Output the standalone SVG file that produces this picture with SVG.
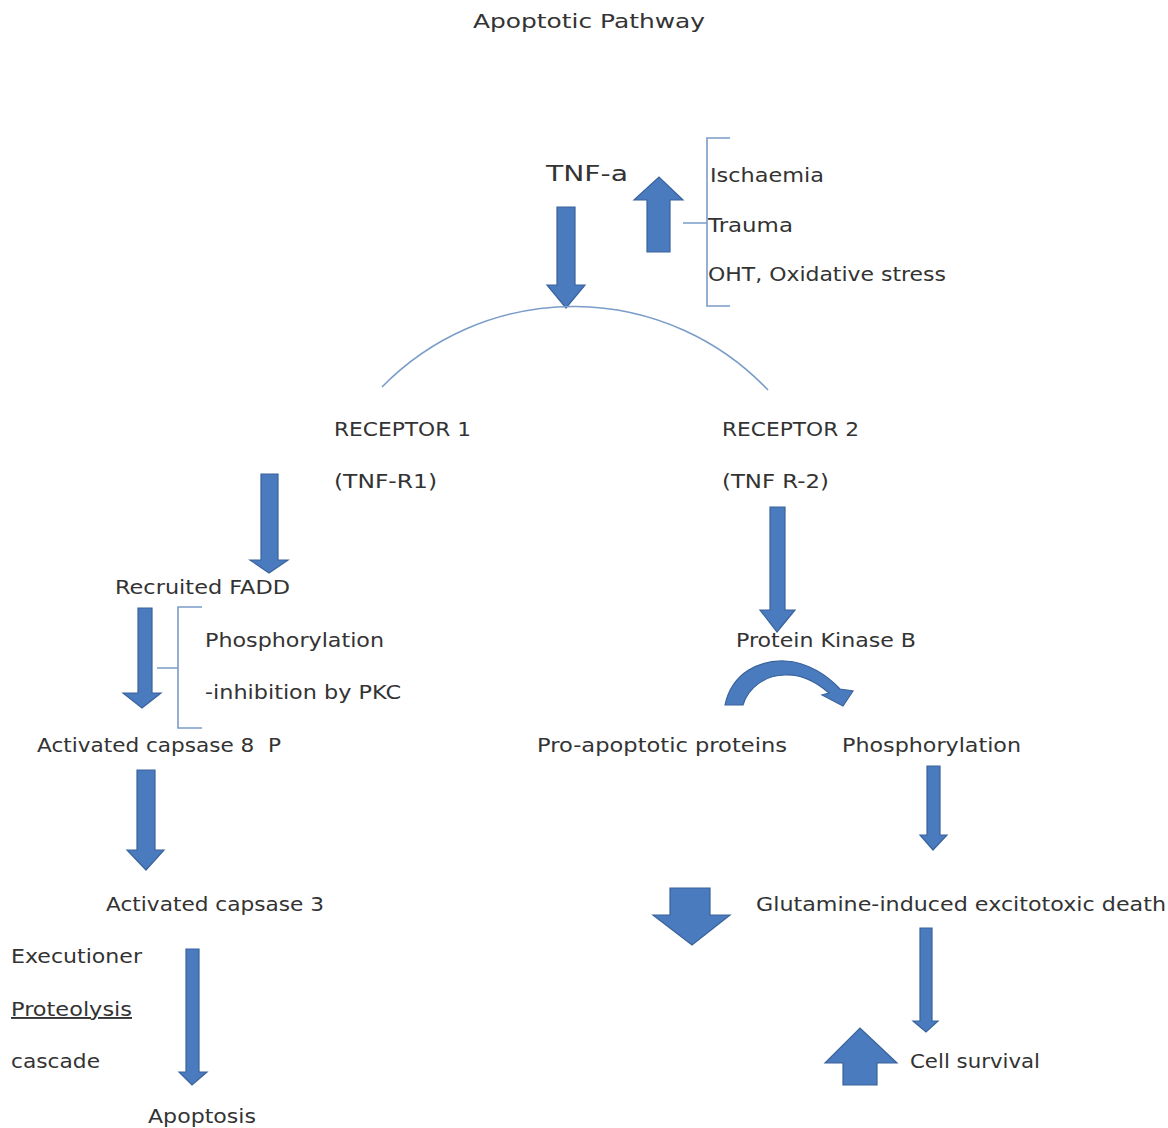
<svg xmlns="http://www.w3.org/2000/svg" width="1168" height="1128" viewBox="0 0 1168 1128">
<style>
text{font-family:"DejaVu Sans","Open Sans",sans-serif;font-size:19px;fill:#333}
.arr{fill:#4A7BBF;stroke:#3A639B;stroke-width:1.2}
.ln{fill:none;stroke:#7A9CC8;stroke-width:1.6}
</style>
<rect width="1168" height="1128" fill="#fff"/>
<text x="473" y="28" textLength="232" lengthAdjust="spacingAndGlyphs" style="font-size:20px">Apoptotic Pathway</text>
<g id="tnfa"><text x="546" y="181" textLength="82" lengthAdjust="spacingAndGlyphs" style="font-size:22px">TNF-a</text></g>
<g id="causes">
<text x="710" y="182" textLength="114" lengthAdjust="spacingAndGlyphs">Ischaemia</text>
<text x="708" y="232" textLength="85" lengthAdjust="spacingAndGlyphs">Trauma</text>
<text x="708" y="281" textLength="238" lengthAdjust="spacingAndGlyphs">OHT, Oxidative stress</text>
</g>
<g id="receptor1"><text x="334" y="436" textLength="137" lengthAdjust="spacingAndGlyphs">RECEPTOR 1</text><text x="334" y="488" textLength="103" lengthAdjust="spacingAndGlyphs">(TNF-R1)</text></g>
<g id="receptor2"><text x="722" y="436" textLength="137" lengthAdjust="spacingAndGlyphs">RECEPTOR 2</text><text x="722" y="488" textLength="107" lengthAdjust="spacingAndGlyphs">(TNF R-2)</text></g>
<g id="fadd"><text x="115" y="594" textLength="175" lengthAdjust="spacingAndGlyphs">Recruited FADD</text></g>
<g id="phos1"><text x="205" y="647" textLength="179" lengthAdjust="spacingAndGlyphs">Phosphorylation</text><text x="205" y="699" textLength="196" lengthAdjust="spacingAndGlyphs">-inhibition by PKC</text></g>
<g id="casp8"><text x="37" y="752" textLength="244" lengthAdjust="spacingAndGlyphs" xml:space="preserve">Activated capsase 8  P</text></g>
<g id="casp3"><text x="106" y="911" textLength="218" lengthAdjust="spacingAndGlyphs">Activated capsase 3</text></g>
<g id="exec"><text x="11" y="963" textLength="131" lengthAdjust="spacingAndGlyphs">Executioner</text><text x="11" y="1016" textLength="121" lengthAdjust="spacingAndGlyphs" text-decoration="underline">Proteolysis</text><text x="11" y="1068" textLength="89" lengthAdjust="spacingAndGlyphs">cascade</text></g>
<g id="apoptosis"><text x="148" y="1123" textLength="108" lengthAdjust="spacingAndGlyphs">Apoptosis</text></g>
<g id="pkb"><text x="736" y="647" textLength="180" lengthAdjust="spacingAndGlyphs">Protein Kinase B</text></g>
<g id="proapo"><text x="537" y="752" textLength="250" lengthAdjust="spacingAndGlyphs">Pro-apoptotic proteins</text></g>
<g id="phos2"><text x="842" y="752" textLength="179" lengthAdjust="spacingAndGlyphs">Phosphorylation</text></g>
<g id="glut"><text x="756" y="911" textLength="410" lengthAdjust="spacingAndGlyphs">Glutamine-induced excitotoxic death</text></g>
<g id="survival"><text x="910" y="1068" textLength="130" lengthAdjust="spacingAndGlyphs">Cell survival</text></g>
<g id="connectors">
<path class="arr" d="M557 207H575V285H585L566 308L547 285H557Z"/>
<path class="arr" d="M647 252V200H634L659 177L683 200H670V252Z"/>
<path class="ln" d="M730 138H707V306H730M707 223H683"/>
<path class="ln" d="M382 387A268 268 0 0 1 768 390"/>
<path class="arr" d="M261 474H278V560H288L269 573L250 560H261Z"/>
<path class="arr" d="M138 608H152V693H161L142 708L123 693H138Z"/>
<path class="ln" d="M202 607H178V728H202M178 668H157"/>
<path class="arr" d="M137 770H155V850H164L146 870L127 850H137Z"/>
<path class="arr" d="M186 949H199V1072H207L192 1085L179 1072H186Z"/>
<path class="arr" d="M770 507H785V610H795L777 632L760 610H770Z"/>
<path class="arr" d="M725 705C732 672 760 660 785 661C808 662 828 676 840 689L853 691L843 706L822 695L829 693C815 681 800 674 785 675C765 675 748 688 743 705Z"/>
<path class="arr" d="M927 766H940V835H947L933 850L920 835H927Z"/>
<path class="arr" d="M670 888H710V915H730L692 945L653 915H670Z"/>
<path class="arr" d="M920 928H932V1021H938L926 1032L913 1021H920Z"/>
<path class="arr" d="M843 1085V1063H825L860 1028L897 1063H877V1085Z"/>
</g>
</svg>
